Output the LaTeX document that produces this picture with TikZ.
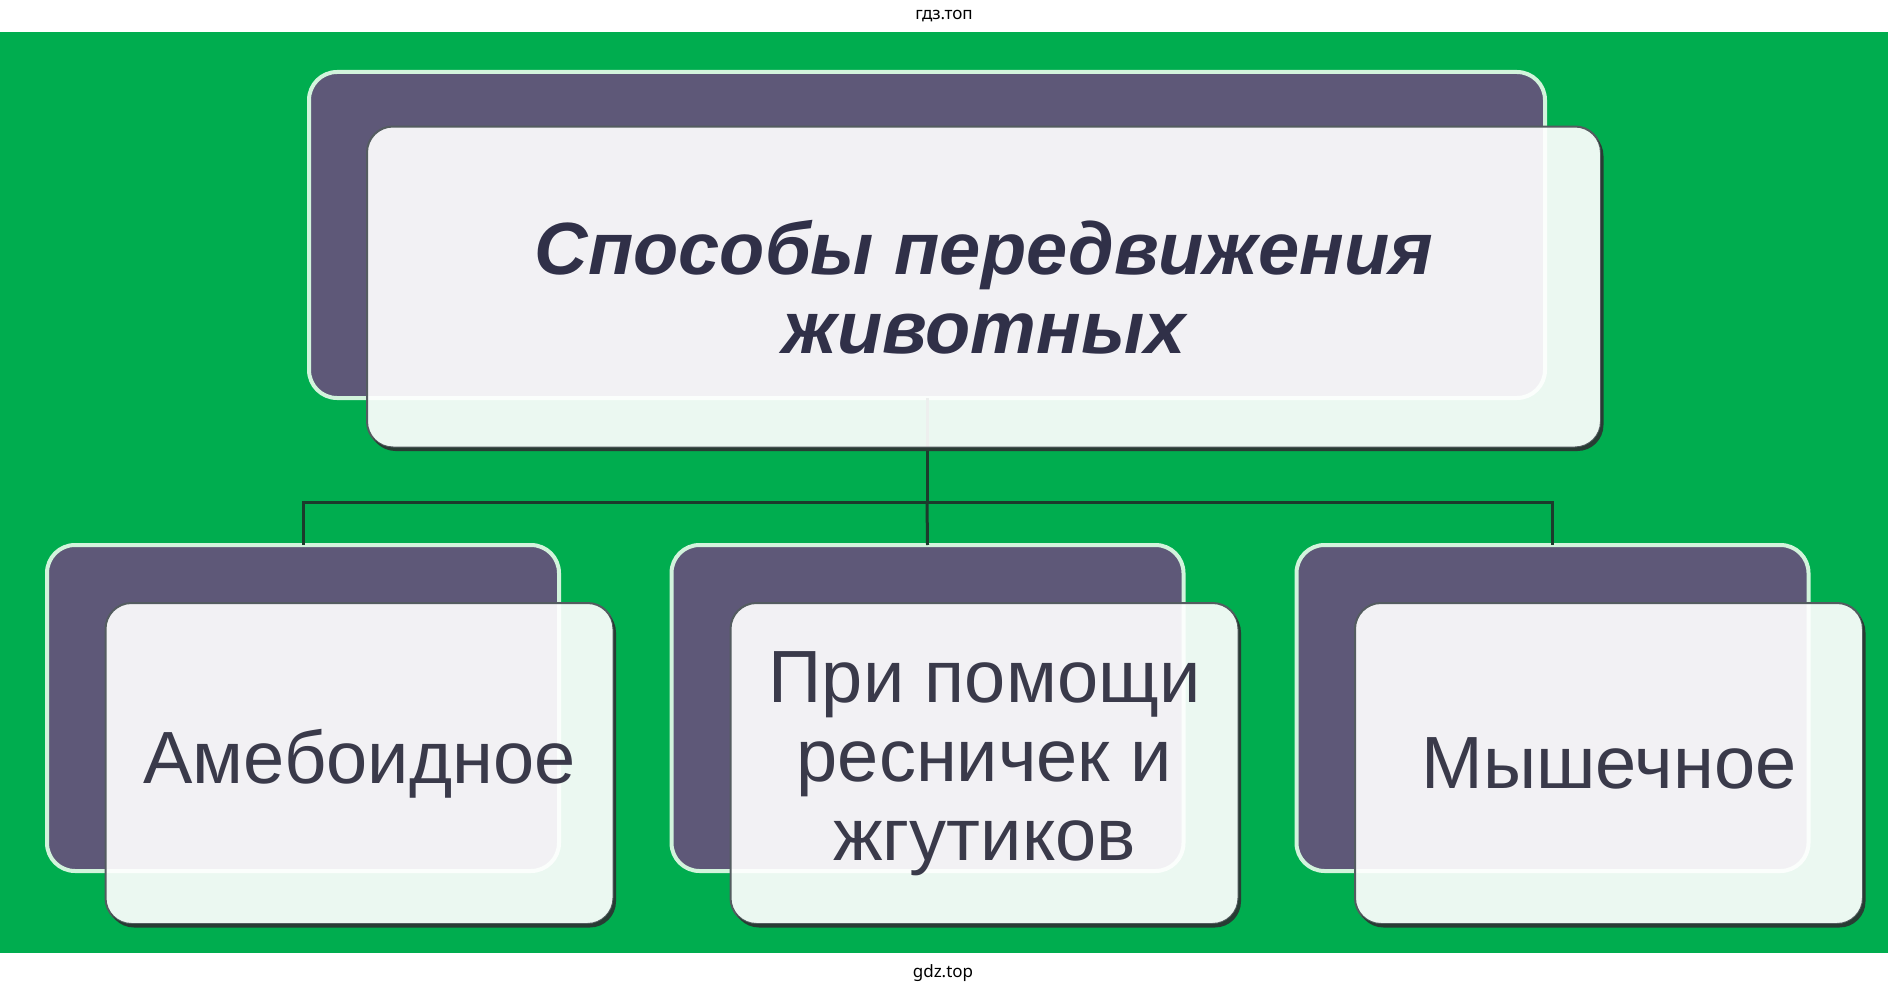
\documentclass[tikz,border=0pt]{standalone}
\usepackage{fontspec}
\setmainfont{Liberation Sans}
\newfontfamily\wmfont{Noto Sans}
\definecolor{bggreen}{RGB}{0,173,79}
\definecolor{backfill}{RGB}{94,88,120}
\definecolor{backline}{RGB}{210,244,220}
\definecolor{frontline}{RGB}{84,92,96}
\definecolor{shadowc}{RGB}{40,60,52}
\definecolor{linkc}{RGB}{28,58,44}
\definecolor{titlec}{RGB}{48,48,72}
\definecolor{textc}{RGB}{58,58,74}
\begin{document}
\begin{tikzpicture}[x=1pt,y=-1pt,
  backbox/.style={draw=backline, line width=4pt, fill=backfill, rounded corners=28pt, inner sep=0pt, outer sep=0pt, minimum height=326pt},
  frontbox/.style={draw=frontline, line width=2pt, fill=white, fill opacity=0.92, text opacity=1, rounded corners=26pt, inner sep=0pt, outer sep=0pt, minimum height=321pt, align=center},
  smallbox/.style={minimum width=508pt, text=textc, font=\fontsize{74}{79}\selectfont},
  link/.style={draw=linkc, line width=3pt},
  wm/.style={font=\wmfont\fontsize{17}{20}\selectfont, text=black, inner sep=0pt}]
\useasboundingbox (0,0) rectangle (1888,990);
\fill[white] (0,0) rectangle (1888,990);
\fill[bggreen] (0,32) rectangle (1888,953);
\node[wm, anchor=base] (wmtop) at (944,20) {гдз.топ};
\node[wm, anchor=base] (wmbot) at (943,977) {gdz.top};
% back boxes
\node[backbox, minimum width=1236pt] (tb) at (927,235) {};
\node[backbox, minimum width=512pt] (lb) at (303,708) {};
\node[backbox, minimum width=512pt] (mb) at (927.5,708) {};
\node[backbox, minimum width=512pt] (rb) at (1552.5,708) {};
% connectors
\coordinate (j) at (927,502);
\draw[link] (tb.south) -- (j) -| (lb.north);
\draw[link] (j) -| (rb.north);
\draw[link] (j) -- (mb.north);
% front boxes
\node[frontbox, minimum width=1234pt, text=titlec, font=\bfseries\itshape\fontsize{74}{79}\selectfont] (ft) at (984,287) {Способы передвижения\\животных};
\node[frontbox, smallbox] (fl) at (359.5,763.5) {Амебоидное};
\node[frontbox, smallbox] (fm) at (984.5,763.5) {При помощи\\ресничек и\\жгутиков};
\node[frontbox, smallbox] (fr) at (1609,763.5) {Мышечное};
% shadows
\begin{scope}[even odd rule]
\clip (-10,-10) rectangle (1900,1000)
  [rounded corners=26pt] (ft.north west) rectangle (ft.south east)
  (fl.north west) rectangle (fl.south east)
  (fm.north west) rectangle (fm.south east)
  (fr.north west) rectangle (fr.south east);
\foreach \n in {ft,fl,fm,fr}{
  \fill[shadowc, rounded corners=26pt] ([shift={(2.5,3.5)}]\n.north west) rectangle ([shift={(2.5,3.5)}]\n.south east);
}
\end{scope}
\end{tikzpicture}
\end{document}
